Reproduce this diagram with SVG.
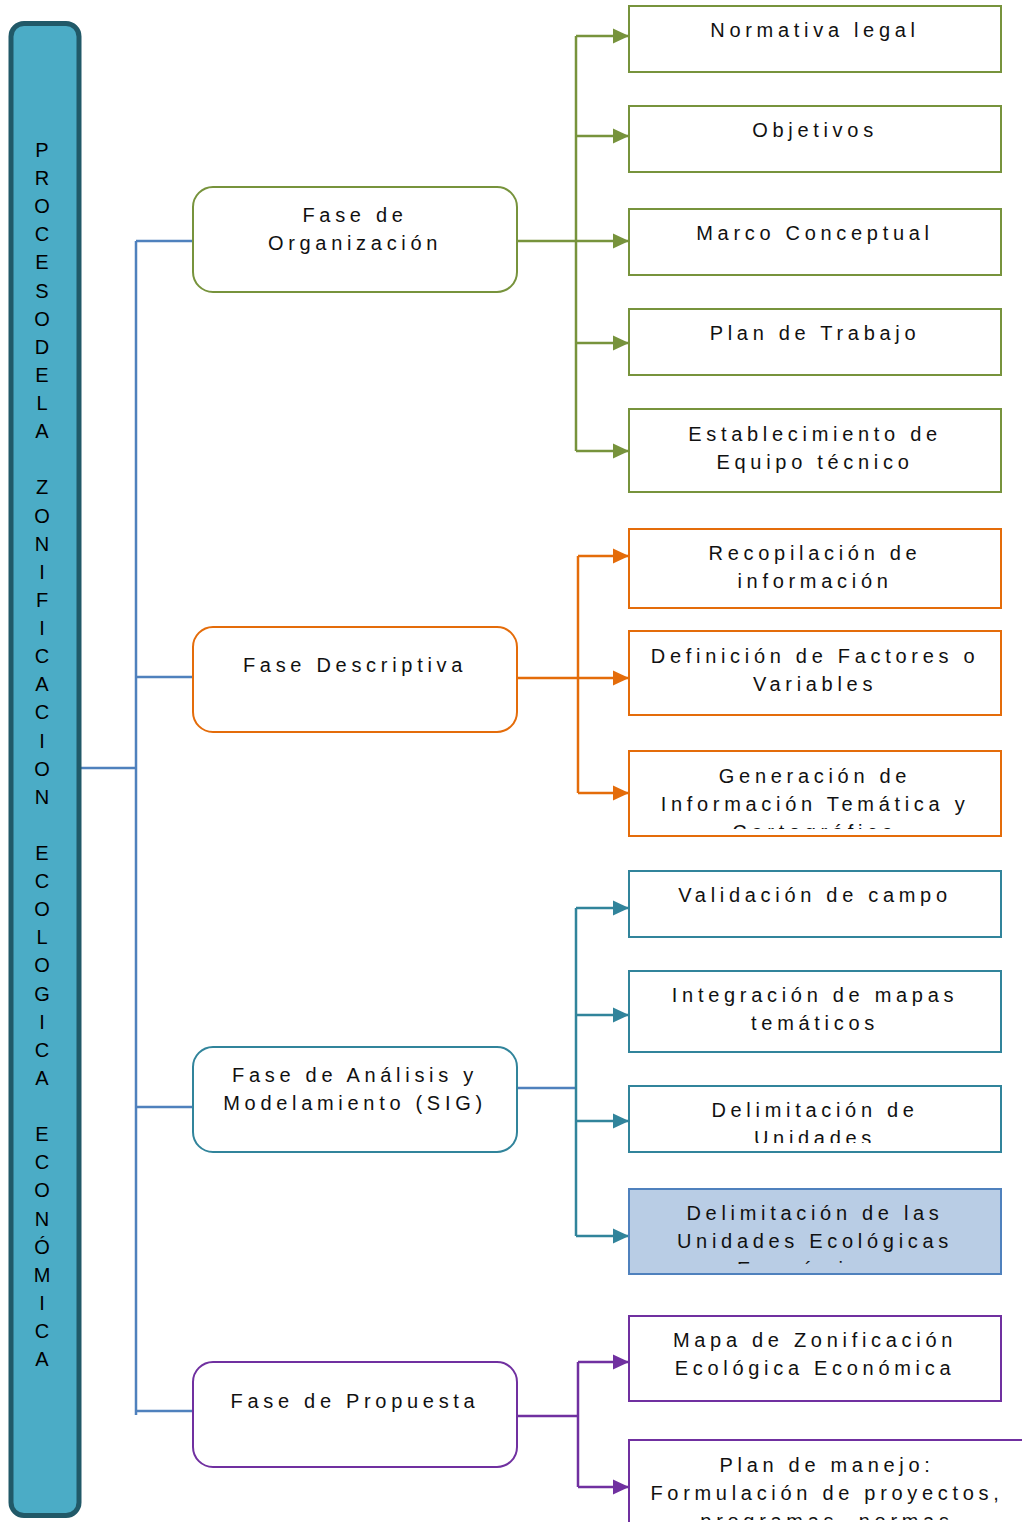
<svg xmlns="http://www.w3.org/2000/svg" width="1022" height="1522" viewBox="0 0 1022 1522">
  <style>
    .t { font-family: "Liberation Sans", Arial, sans-serif; font-size: 20px; letter-spacing: 4.7px; fill: #111; text-anchor: middle; }
    .bar-t { font-family: "Liberation Sans", Arial, sans-serif; font-size: 20px; fill: #000; text-anchor: middle; }
    .box { fill: #fff; stroke-width: 2; }
    .phase { fill: #fff; stroke-width: 2; }
    .g { stroke: #77933C; }
    .o { stroke: #E46C0A; }
    .c { stroke: #31849B; }
    .p { stroke: #7030A0; }
    .hl { fill: #B9CDE5; stroke: #4F81BD; stroke-width: 2; }
    .ln { fill: none; stroke-width: 2.5; }
  </style>
  <defs>
    <marker id="ah-g" markerUnits="userSpaceOnUse" markerWidth="16" markerHeight="16" viewBox="0 0 16 16" refX="16" refY="8" orient="auto"><path d="M0,0.5 L16,8 L0,15.5 z" fill="#77933C"/></marker>
    <marker id="ah-o" markerUnits="userSpaceOnUse" markerWidth="16" markerHeight="16" viewBox="0 0 16 16" refX="16" refY="8" orient="auto"><path d="M0,0.5 L16,8 L0,15.5 z" fill="#E46C0A"/></marker>
    <marker id="ah-c" markerUnits="userSpaceOnUse" markerWidth="16" markerHeight="16" viewBox="0 0 16 16" refX="16" refY="8" orient="auto"><path d="M0,0.5 L16,8 L0,15.5 z" fill="#31849B"/></marker>
    <marker id="ah-p" markerUnits="userSpaceOnUse" markerWidth="16" markerHeight="16" viewBox="0 0 16 16" refX="16" refY="8" orient="auto"><path d="M0,0.5 L16,8 L0,15.5 z" fill="#7030A0"/></marker>
    <clipPath id="clip-gen"><rect x="629" y="751" width="372" height="78"/></clipPath>
    <clipPath id="clip-uni"><rect x="629" y="1086" width="372" height="57"/></clipPath>
    <clipPath id="clip-ue"><rect x="629" y="1189" width="372" height="75"/></clipPath>
    <clipPath id="clip-pm"><rect x="629" y="1440" width="400" height="80"/></clipPath>
  </defs>

  <!-- connectors -->
  <g id="connectors">
    <!-- main tree from the title bar -->
    <path class="ln" stroke="#4F81BD" stroke-width="2" d="M80,768 H136 M136,241 V1415 M136,241 H193 M136,677 H193 M136,1107 H193 M136,1411 H193"/>
    <!-- organization branch -->
    <path class="ln" stroke="#77933C" d="M576,36 V451"/>
    <path class="ln" stroke="#77933C" marker-end="url(#ah-g)" d="M517,241 H629"/>
    <path class="ln" stroke="#77933C" marker-end="url(#ah-g)" d="M576,36 H629"/>
    <path class="ln" stroke="#77933C" marker-end="url(#ah-g)" d="M576,136 H629"/>
    <path class="ln" stroke="#77933C" marker-end="url(#ah-g)" d="M576,343 H629"/>
    <path class="ln" stroke="#77933C" marker-end="url(#ah-g)" d="M576,451 H629"/>
    <!-- descriptive branch -->
    <path class="ln" stroke="#E46C0A" d="M578,556 V793"/>
    <path class="ln" stroke="#E46C0A" marker-end="url(#ah-o)" d="M517,678 H629"/>
    <path class="ln" stroke="#E46C0A" marker-end="url(#ah-o)" d="M578,556 H629"/>
    <path class="ln" stroke="#E46C0A" marker-end="url(#ah-o)" d="M578,793 H629"/>
    <!-- analysis branch -->
    <path class="ln" stroke="#4F81BD" stroke-width="2" d="M517,1088 H576"/>
    <path class="ln" stroke="#31849B" d="M576,908 V1236"/>
    <path class="ln" stroke="#31849B" marker-end="url(#ah-c)" d="M576,908 H629"/>
    <path class="ln" stroke="#31849B" marker-end="url(#ah-c)" d="M576,1015 H629"/>
    <path class="ln" stroke="#31849B" marker-end="url(#ah-c)" d="M576,1121 H629"/>
    <path class="ln" stroke="#31849B" marker-end="url(#ah-c)" d="M576,1236 H629"/>
    <!-- proposal branch -->
    <path class="ln" stroke="#7030A0" d="M517,1416 H578 M578,1362 V1487"/>
    <path class="ln" stroke="#7030A0" marker-end="url(#ah-p)" d="M578,1362 H629"/>
    <path class="ln" stroke="#7030A0" marker-end="url(#ah-p)" d="M578,1487 H629"/>
  </g>

  <!-- title bar -->
  <g id="title-bar">
    <rect x="11" y="23.5" width="68" height="1492" rx="13" fill="#4BACC6" stroke="#215968" stroke-width="5"/>
    <text class="bar-t" x="42" y="157"><tspan x="42">P</tspan><tspan x="42" dy="28.12">R</tspan><tspan x="42" dy="28.12">O</tspan><tspan x="42" dy="28.12">C</tspan><tspan x="42" dy="28.12">E</tspan><tspan x="42" dy="28.12">S</tspan><tspan x="42" dy="28.12">O</tspan><tspan x="42" dy="28.12">D</tspan><tspan x="42" dy="28.12">E</tspan><tspan x="42" dy="28.12">L</tspan><tspan x="42" dy="28.12">A</tspan><tspan x="42" dy="56.24">Z</tspan><tspan x="42" dy="28.12">O</tspan><tspan x="42" dy="28.12">N</tspan><tspan x="42" dy="28.12">I</tspan><tspan x="42" dy="28.12">F</tspan><tspan x="42" dy="28.12">I</tspan><tspan x="42" dy="28.12">C</tspan><tspan x="42" dy="28.12">A</tspan><tspan x="42" dy="28.12">C</tspan><tspan x="42" dy="28.12">I</tspan><tspan x="42" dy="28.12">O</tspan><tspan x="42" dy="28.12">N</tspan><tspan x="42" dy="56.24">E</tspan><tspan x="42" dy="28.12">C</tspan><tspan x="42" dy="28.12">O</tspan><tspan x="42" dy="28.12">L</tspan><tspan x="42" dy="28.12">O</tspan><tspan x="42" dy="28.12">G</tspan><tspan x="42" dy="28.12">I</tspan><tspan x="42" dy="28.12">C</tspan><tspan x="42" dy="28.12">A</tspan><tspan x="42" dy="56.24">E</tspan><tspan x="42" dy="28.12">C</tspan><tspan x="42" dy="28.12">O</tspan><tspan x="42" dy="28.12">N</tspan><tspan x="42" dy="28.12">Ó</tspan><tspan x="42" dy="28.12">M</tspan><tspan x="42" dy="28.12">I</tspan><tspan x="42" dy="28.12">C</tspan><tspan x="42" dy="28.12">A</tspan></text>
  </g>

  <!-- phases -->
  <g id="fase-organizacion">
    <rect class="phase g" x="193" y="187" width="324" height="105" rx="20"/>
    <text class="t" x="355" y="222">Fase de</text>
    <text class="t" x="355" y="250">Organización</text>
  </g>
  <g id="fase-descriptiva">
    <rect class="phase o" x="193" y="627" width="324" height="105" rx="20"/>
    <text class="t" x="355" y="672">Fase Descriptiva</text>
  </g>
  <g id="fase-analisis">
    <rect class="phase c" x="193" y="1047" width="324" height="105" rx="20"/>
    <text class="t" x="355" y="1082">Fase de Análisis y</text>
    <text class="t" x="355" y="1110">Modelamiento (SIG)</text>
  </g>
  <g id="fase-propuesta">
    <rect class="phase p" x="193" y="1362" width="324" height="105" rx="20"/>
    <text class="t" x="355" y="1408">Fase de Propuesta</text>
  </g>

  <!-- organization tasks -->
  <g id="normativa-legal">
    <rect class="box g" x="629" y="6" width="372" height="66"/>
    <text class="t" x="815" y="37">Normativa legal</text>
  </g>
  <g id="objetivos">
    <rect class="box g" x="629" y="106" width="372" height="66"/>
    <text class="t" x="815" y="137">Objetivos</text>
  </g>
  <g id="marco-conceptual">
    <rect class="box g" x="629" y="209" width="372" height="66"/>
    <text class="t" x="815" y="240">Marco Conceptual</text>
  </g>
  <g id="plan-trabajo">
    <rect class="box g" x="629" y="309" width="372" height="66"/>
    <text class="t" x="815" y="340">Plan de Trabajo</text>
  </g>
  <g id="equipo-tecnico">
    <rect class="box g" x="629" y="409" width="372" height="83"/>
    <text class="t" x="815" y="441">Establecimiento de</text>
    <text class="t" x="815" y="469">Equipo técnico</text>
  </g>

  <!-- descriptive tasks -->
  <g id="recopilacion">
    <rect class="box o" x="629" y="529" width="372" height="79"/>
    <text class="t" x="815" y="560">Recopilación de</text>
    <text class="t" x="815" y="588">información</text>
  </g>
  <g id="factores-variables">
    <rect class="box o" x="629" y="631" width="372" height="84"/>
    <text class="t" x="815" y="663">Definición de Factores o</text>
    <text class="t" x="815" y="691">Variables</text>
  </g>
  <g id="informacion-tematica">
    <rect class="box o" x="629" y="751" width="372" height="85"/>
    <g clip-path="url(#clip-gen)">
      <text class="t" x="815" y="783">Generación de</text>
      <text class="t" x="815" y="811">Información Temática y</text>
      <text class="t" x="815" y="839">Cartográfica</text>
    </g>
  </g>

  <!-- analysis tasks -->
  <g id="validacion-campo">
    <rect class="box c" x="629" y="871" width="372" height="66"/>
    <text class="t" x="815" y="902">Validación de campo</text>
  </g>
  <g id="integracion-mapas">
    <rect class="box c" x="629" y="971" width="372" height="81"/>
    <text class="t" x="815" y="1002">Integración de mapas</text>
    <text class="t" x="815" y="1030">temáticos</text>
  </g>
  <g id="delimitacion-unidades">
    <rect class="box c" x="629" y="1086" width="372" height="66"/>
    <g clip-path="url(#clip-uni)">
      <text class="t" x="815" y="1117">Delimitación de</text>
      <text class="t" x="815" y="1145">Unidades</text>
    </g>
  </g>
  <g id="unidades-ecologicas">
    <rect class="hl" x="629" y="1189" width="372" height="85"/>
    <g clip-path="url(#clip-ue)">
      <text class="t" x="815" y="1220">Delimitación de las</text>
      <text class="t" x="815" y="1248">Unidades Ecológicas</text>
      <text class="t" x="815" y="1276">Económicas</text>
    </g>
  </g>

  <!-- proposal tasks -->
  <g id="mapa-zonificacion">
    <rect class="box p" x="629" y="1316" width="372" height="85"/>
    <text class="t" x="815" y="1347">Mapa de Zonificación</text>
    <text class="t" x="815" y="1375">Ecológica Económica</text>
  </g>
  <g id="plan-manejo">
    <rect class="box p" x="629" y="1440" width="400" height="100"/>
    <g clip-path="url(#clip-pm)">
      <text class="t" x="827" y="1472">Plan de manejo:</text>
      <text class="t" x="827" y="1500">Formulación de proyectos,</text>
      <text class="t" x="827" y="1528">programas, normas</text>
    </g>
  </g>
</svg>
